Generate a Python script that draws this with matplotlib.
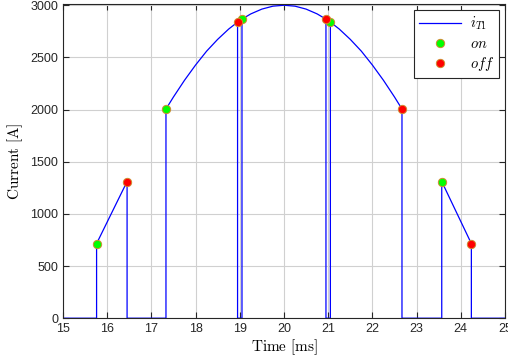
import matplotlib.pyplot as plt

plt.rcParams['font.family'] = ['Liberation Sans', 'DejaVu Sans']
plt.rcParams['mathtext.fontset'] = 'cm'

# Thyristor current waveform (vertices)
t_wave = [15.0, 15.76, 15.76, 16.45, 16.45, 17.33, 17.33,
          17.5, 17.75, 18.0, 18.25, 18.5, 18.75, 18.95, 18.95,
          19.05, 19.05, 19.25, 19.5, 19.75, 20.0, 20.25, 20.5, 20.75, 20.95, 20.95,
          21.05, 21.05, 21.25, 21.5, 21.75, 22.0, 22.25, 22.5, 22.67, 22.67,
          23.57, 23.57, 24.24, 24.24, 25.0]
i_wave = [0, 0, 715, 1310, 0, 0, 2005,
          2121, 2281, 2427, 2560, 2673, 2772, 2838, 0,
          0, 2867, 2917, 2963, 2991, 3000, 2991, 2963, 2917, 2867, 0,
          0, 2838, 2772, 2673, 2560, 2427, 2281, 2121, 2005, 0,
          0, 1310, 715, 0, 0]

# switching instants
on_t = [15.76, 17.33, 19.05, 21.05, 23.57]
on_i = [715, 2005, 2867, 2838, 1310]
off_t = [16.45, 18.95, 20.95, 22.67, 24.24]
off_i = [1310, 2838, 2867, 2005, 715]

fig = plt.figure(figsize=(5.08, 3.62), dpi=100)
ax = fig.add_axes([0.124, 0.121, 0.870, 0.868])

ax.plot(t_wave, i_wave, color='#0000ff', lw=0.9, label=r'$i_{T1}$')
ax.plot(on_t, on_i, 'o', color='#00ff00', mec='#d08a30', mew=0.7, ms=6,
        label=r'$on$')
ax.plot(off_t, off_i, 'o', color='#ff0000', mec='#d08a30', mew=0.7, ms=6,
        label=r'$off$')

ax.set_xlim(15, 25)
ax.set_ylim(0, 3012)
ax.set_xticks(range(15, 26))
ax.set_yticks(range(0, 3001, 500))
ax.grid(True, color='#d0d0d0', lw=0.8)
ax.set_axisbelow(True)
ax.tick_params(direction='in', top=True, right=True, labelsize=9,
               length=4, color='#262626', labelcolor='#262626')
for s in ax.spines.values():
    s.set_color('#262626')
    s.set_linewidth(0.8)

ax.set_xlabel(r'$\mathrm{Time\ [ms]}$', fontsize=11, labelpad=2)
ax.set_ylabel(r'$\mathrm{Current\ [A]}$', fontsize=11, labelpad=4)

leg = ax.legend(loc='upper right', fontsize=10.5, fancybox=False,
                edgecolor='#262626', framealpha=1, borderaxespad=0.4,
                handlelength=2.9, handletextpad=0.6, labelspacing=0.3,
                borderpad=0.35)
leg.get_frame().set_linewidth(0.8)

fig.savefig('out.png', dpi=100)
